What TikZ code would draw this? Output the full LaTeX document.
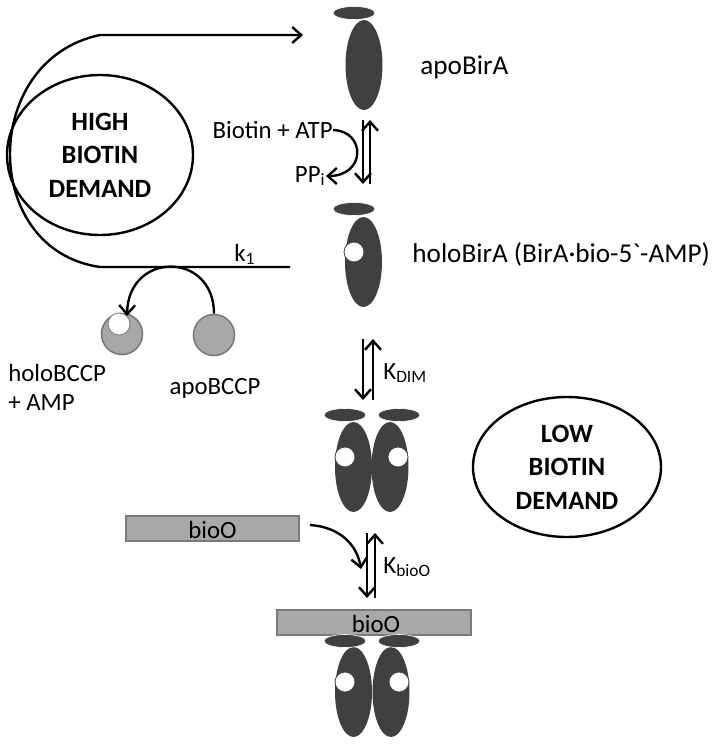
\documentclass[tikz,border=0pt]{standalone}
\usepackage{fontspec}
\setmainfont{Carlito}
\usetikzlibrary{arrows.meta,shapes.geometric}
\definecolor{prot}{HTML}{404040}
\definecolor{bccp}{HTML}{A8A8A8}
\definecolor{bccpedge}{HTML}{7A7A7A}
\tikzset{
  protbody/.style={ellipse,fill=prot,inner sep=0pt,minimum width=18.5pt,minimum height=45pt},
  protcap/.style={ellipse,fill=prot,draw=white,line width=0.3pt,inner sep=0pt,minimum width=21pt,minimum height=6.5pt},
  protsite/.style={circle,fill=white,draw=prot,line width=0.4pt,inner sep=0pt,minimum size=10pt},
  bccpball/.style={circle,fill=bccp,draw=bccpedge,line width=0.8pt,inner sep=0pt,minimum size=20.5pt},
  dnabox/.style={rectangle,fill=bccp,draw=bccpedge,line width=0.8pt,inner sep=0pt,minimum height=12.5pt},
  lbl/.style={font=\fontsize{12.4}{14.5}\selectfont,inner sep=0pt},
  biglbl/.style={font=\fontsize{13.6}{16}\selectfont,inner sep=0pt},
  demand/.style={ellipse,draw=black,line width=1.2pt,inner sep=0pt,align=center,font=\fontsize{13.2}{16.8}\selectfont\bfseries},
  arr/.style={line width=1.2pt,-{Straight Barb[length=4.5pt,width=8pt]}}
}
\begin{document}
\begin{tikzpicture}[x=0.5pt,y=-0.5pt]
\useasboundingbox (0,0) rectangle (720,750);

% apoBirA
\node[protbody] (apob) at (364,65) {};
\node[protcap] (apoc) at (354,13) {};
\node[biglbl,anchor=west] (apol) at (420,67) {apoBirA};

% holoBirA
\node[protbody] (holob) at (363.5,262) {};
\node[protcap] (holoc) at (354,209) {};
\node[protsite] (holoh) at (354,252) {};
\node[biglbl,anchor=west] (hololbl) at (412,254) {holoBirA (BirA\textperiodcentered bio-5\textasciigrave-AMP)};

% high biotin demand
\node[demand,minimum width=93pt,minimum height=80pt] (high) at (100,155) {HIGH\\BIOTIN\\DEMAND};

% loop arrow
\coordinate (k1end) at (290,267);
\coordinate (loopb) at (100,267);
\coordinate (loopt) at (100,35);
\coordinate (apoin) at (303,35);
\draw[arr] (k1end) -- (loopb) .. controls (-20,250) and (-20,60) .. (loopt) -- (apoin);
\node[lbl,anchor=south] (k1) at (245,265) {k\textsubscript{1}};

% biotin + ATP
\node[lbl,anchor=east] (batp) at (333,130) {Biotin + ATP};
\node[lbl,anchor=east] (ppi) at (326,176) {PP\textsubscript{i}};
\draw[arr] (batp.east) .. controls (366,131) and (366,176) .. (ppi.east);

% equilibrium arrows apo/holo
\coordinate (e1a) at (363,120);
\coordinate (e1b) at (363,184);
\coordinate (e1c) at (370,184);
\coordinate (e1d) at (370,120);
\draw[arr] (e1a) -- (e1b);
\draw[arr] (e1c) -- (e1d);

% BCCP
\node[bccpball] (apobccp) at (214,335) {};
\node[bccpball] (holobccp) at (122,334) {};
\node[protsite,draw=bccpedge,minimum size=11pt] (bccph) at (119,324) {};
\node[lbl] (apobccpl) at (215,388) {apoBCCP};
\node[lbl,anchor=west,align=left] (holobccpl) at (8,387) {holoBCCP\\+ AMP};
\draw[arr] (apobccp.north) .. controls (214,251) and (128,251) .. (bccph.north east);

% KDIM arrows
\coordinate (e2a) at (363,339);
\coordinate (e2b) at (363,400);
\coordinate (e2c) at (373,400);
\coordinate (e2d) at (373,339);
\draw[arr] (e2a) -- (e2b);
\draw[arr] (e2c) -- (e2d);
\node[lbl,anchor=west] (kdim) at (383,373) {K\textsubscript{DIM}};

% dimer
\node[protbody] (d1l) at (353.5,467) {};
\node[protbody] (d1r) at (390,467) {};
\node[protcap] (d1lc) at (345,415) {};
\node[protcap] (d1rc) at (399,415) {};
\node[protsite] (d1lh) at (345,457) {};
\node[protsite] (d1rh) at (398,457) {};

% low biotin demand
\node[demand,minimum width=94pt,minimum height=70pt] (low) at (567,467) {LOW\\BIOTIN\\DEMAND};

% free bioO
\node[dnabox,minimum width=86.5pt] (bioo1) at (212.5,528.5) {};
\node[lbl] (bioo1l) at (212.5,530) {bioO};
\coordinate (bioarrs) at (310,525);
\coordinate (bioarre) at (361,569);
\draw[arr] (bioarrs) .. controls (340,527) and (357,545) .. (bioarre);

% KbioO arrows
\coordinate (e3a) at (367,533);
\coordinate (e3b) at (367,598);
\coordinate (e3c) at (375,598);
\coordinate (e3d) at (375,533);
\draw[arr] (e3a) -- (e3b);
\draw[arr] (e3c) -- (e3d);
\node[lbl,anchor=west] (kbioo) at (383,567) {K\textsubscript{bioO}};

% bound complex
\node[dnabox,minimum width=97pt] (bioo2) at (374,622.5) {};
\node[lbl] (bioo2l) at (376,624) {bioO};
\node[protbody] (d2l) at (353.5,692) {};
\node[protbody] (d2r) at (391,692) {};
\node[protcap] (d2lc) at (345,641) {};
\node[protcap] (d2rc) at (399,641) {};
\node[protsite] (d2lh) at (345,682) {};
\node[protsite] (d2rh) at (399,682) {};
\end{tikzpicture}
\end{document}
